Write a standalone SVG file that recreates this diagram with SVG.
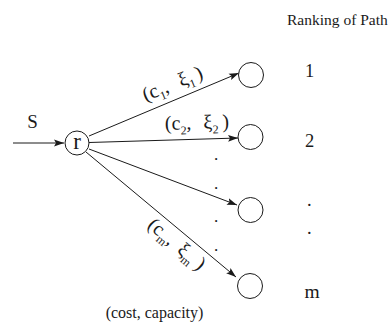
<svg xmlns="http://www.w3.org/2000/svg" width="390" height="334" viewBox="0 0 390 334" font-family="'Liberation Serif', 'Times New Roman', Times, serif">
<style>
  .nd { fill: #fff; stroke: #1a1a1a; stroke-width: 1; }
  .ln { fill: none; stroke: #1a1a1a; stroke-width: 1; marker-end: url(#ah); }
  text { font-family: 'Liberation Serif', 'Times New Roman', Times, serif; fill: #1a1a1a; }
  .lbl { font-size: 20px; }
  .sub { font-size: 12px; }
</style>
<defs>
  <marker id="ah" markerUnits="userSpaceOnUse" markerWidth="11" markerHeight="8" refX="10" refY="4" orient="auto">
    <path d="M0,0.6 L10,4 L0,7.4 L2,4 Z" fill="#1a1a1a"/>
  </marker>
</defs>
<rect width="390" height="334" fill="#fff"/>

<g id="connectors">
  <line class="ln" x1="13" y1="143" x2="64" y2="143"/>
  <line class="ln" x1="89" y1="136" x2="239" y2="73"/>
  <line class="ln" x1="89" y1="142.5" x2="238" y2="138"/>
  <line class="ln" x1="89" y1="149" x2="237" y2="205"/>
  <line class="ln" x1="86" y1="152" x2="236" y2="277"/>
</g>

<g id="edge-labels">
  <text class="lbl" text-anchor="middle" transform="translate(173,85) rotate(-22)" y="5">(<tspan>c</tspan><tspan class="sub" dy="5">1</tspan><tspan dy="-5">,</tspan><tspan dx="12">ξ</tspan><tspan class="sub" dy="5">1</tspan><tspan dx="3" dy="-5">)</tspan></text>
  <text class="lbl" text-anchor="middle" transform="translate(197,124) rotate(-1.5)" y="5">(<tspan>c</tspan><tspan class="sub" dy="5">2</tspan><tspan dy="-5">,</tspan><tspan dx="12">ξ</tspan><tspan class="sub" dy="5">2</tspan><tspan dx="4" dy="-5">)</tspan></text>
  <text class="lbl" text-anchor="middle" transform="translate(176,245) rotate(40)" y="5">(<tspan>c</tspan><tspan class="sub" dy="5">m</tspan><tspan dy="-5">,</tspan><tspan dx="9">ξ</tspan><tspan class="sub" dy="5">m</tspan><tspan dx="5" dy="-5">)</tspan></text>
</g>

<g id="source">
  <text x="32.5" y="128" font-size="19" text-anchor="middle">S</text>
</g>

<g id="node-r">
  <circle class="nd" cx="77" cy="143" r="12"/>
  <text x="77" y="148.5" font-size="23" text-anchor="middle">r</text>
</g>
<g id="node-1"><circle class="nd" cx="251" cy="75" r="12.5"/></g>
<g id="node-2"><circle class="nd" cx="250.5" cy="137" r="12.5"/></g>
<g id="node-3"><circle class="nd" cx="250.5" cy="210" r="12.5"/></g>
<g id="node-4"><circle class="nd" cx="250" cy="286" r="12.5"/></g>

<g id="middle-dots" font-size="17" text-anchor="middle">
  <text x="216" y="159.5">.</text>
  <text x="216" y="188.5">.</text>
  <text x="216" y="221.5">.</text>
  <text x="216" y="250.5">.</text>
</g>

<g id="ranking">
  <text x="287" y="25" font-size="15.5">Ranking of Path</text>
  <text x="305" y="77" font-size="18.5">1</text>
  <text x="305" y="147" font-size="18.5">2</text>
  <text x="307" y="206" font-size="18.5">.</text>
  <text x="307" y="234" font-size="18.5">.</text>
  <text x="304.5" y="298" font-size="19.5">m</text>
</g>

<g id="caption">
  <text x="154.5" y="318" font-size="16" text-anchor="middle">(cost, capacity)</text>
</g>
</svg>
